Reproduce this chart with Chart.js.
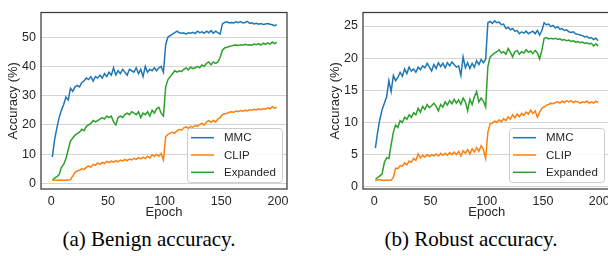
<!DOCTYPE html>
<html>
<head>
<meta charset="utf-8">
<script src="https://cdn.jsdelivr.net/npm/chart.js@4.4.1/dist/chart.umd.min.js"></script>
<style>
  html, body { margin: 0; padding: 0; background: #fff; width: 608px; height: 256px; overflow: hidden; position: relative; }
  .box { position: absolute; top: 0; width: 300px; height: 222px; }
  #boxA { left: 0; }
  #boxB { left: 322px; }
  .cap { position: absolute; top: 229px; line-height: 21px; font-family: "Liberation Serif", "Times New Roman", serif; font-size: 21px; color: #000; white-space: nowrap; transform: translateX(-50%); }
</style>
</head>
<body>
<div class="box" id="boxA"><canvas id="chartA" width="300" height="222"></canvas></div>
<div class="box" id="boxB"><canvas id="chartB" width="300" height="222"></canvas></div>
<div class="cap" style="left:149px">(a) Benign accuracy.</div>
<div class="cap" style="left:471px">(b) Robust accuracy.</div>
<script>
// epochs sampled every 2 (1, 3, ..., 199)
const epochs = Array.from({length: 100}, (_, i) => 1 + 2 * i);
const seriesNames = ['MMC', 'CLIP', 'Expanded'];
const seriesColors = ['#1f77b4', '#ff7f0e', '#2ca02c'];

const xTicks = [0, 50, 100, 150, 200];
const benignTicks = [0, 10, 20, 30, 40, 50];
const robustTicks = [0, 5, 10, 15, 20, 25];

// (a) benign accuracy
const benignMMC = [
  9, 15, 19, 22.5, 25, 27, 29.5, 28.5, 32.5, 31.5,
  33, 33.5, 33, 34.5, 35, 36, 35.5, 36.5, 35, 36.5,
  36, 37, 36, 37.5, 36.5, 38, 37, 39.5, 37, 38.5,
  37.5, 39, 38, 37, 39, 38.5, 38, 39.5, 37.5, 39,
  36.5, 40, 38, 39, 38.5, 39.5, 38.5, 39.5, 40, 38,
  47.5, 50, 50.5, 51, 51.5, 52, 51.5, 51.3, 51.5, 51,
  51.5, 51.3, 51.6, 51.2, 52, 51.5, 51.8, 51.3, 52, 51.5,
  52.2, 51.3, 52, 51.5, 51, 54.5, 55, 55.2, 54.8, 55,
  54.8, 55.2, 54.9, 55.3, 54.8, 55, 55.4, 54.7, 54.9, 54.5,
  54.7, 54.4, 54.6, 54.3, 54.5, 54.6, 54.4, 54.2, 53.9, 54.2
];
const benignCLIP = [
  1.2, 1.1, 1.1, 1.1, 1.1, 1.1, 1.1, 1.2, 1.3, 2.5,
  3.8, 4.3, 4.5, 5, 4.8, 5.5, 6, 5.5, 6.5, 6.2,
  7, 6.5, 7.2, 6.8, 7.5, 7.2, 7.6, 7.3, 7.8, 7.4,
  8, 7.6, 8.2, 7.8, 8.3, 8, 8.6, 8.2, 8.8, 8.4,
  9, 8.5, 9.3, 8.7, 9.8, 9.2, 10, 9.3, 10.2, 8,
  16, 16.8, 17.2, 17.5, 17.2, 18, 18.5, 18.2, 19, 19.3,
  18.8, 19.5, 19.2, 19.8, 19.5, 20.2, 20.5, 20, 21, 21.5,
  20.8, 21.5, 21, 22, 22.5, 23.5, 23.8, 24, 24.3, 24.5,
  24.3, 24.7, 24.5, 24.9, 24.7, 25, 24.8, 25.2, 25, 25.3,
  25.1, 25.5, 25.2, 25.6, 25.4, 25.8, 25.5, 26.2, 25.7, 26
];
const benignExpanded = [
  1.2, 1.8, 2.3, 3, 5.5, 6.5, 8.5, 11.5, 14.5, 15.5,
  16.5, 17, 17.5, 18.5, 18, 19.5, 20, 20.5, 21.5, 21,
  21.5, 22, 22.5, 22, 23, 22.5, 23, 21, 20, 22.5,
  23, 22.5, 23.5, 24, 23.5, 24.5, 24, 23.5, 24.5, 22.5,
  24, 23.5, 24.5, 23, 25, 24, 25.5, 26, 24, 23,
  33, 35.5, 36.5, 37.5, 38.5, 38, 38.5, 38.2, 39, 39.5,
  38.8, 39.8, 39.2, 39.5, 40, 39.5, 40.5, 40, 41, 41.5,
  40.5, 41.5, 41, 41.5, 43, 45.5, 46.3, 46.5, 46.8, 47,
  47.2, 47.3, 47.1, 47.4, 47.2, 47.5, 47.3, 47.4, 47.2, 47.6,
  47.4, 47.8, 47.3, 47.9, 47.5, 48, 47.6, 48.3, 47.8, 48.2
];

// (b) robust accuracy
const robustMMC = [
  6, 8.5, 10.5, 12, 13, 14, 16.5, 14.8, 17.3, 16.5,
  17, 17.8, 17.2, 18.3, 17.6, 18.6, 18, 18.3, 17.8, 18.6,
  18.2, 18.8, 18.5, 19.2, 18.6, 18, 19, 18.4, 19.3, 18.7,
  19.2, 18.5, 19.3, 18.8, 19.4, 19, 18.6, 18.8, 17.3, 20.2,
  18.5, 19.3, 18.4, 19.2, 18.6, 19.6, 19, 19.8, 19.3, 19.8,
  25.5, 25.7, 25.4, 25.8, 25.5, 25.6, 25.2, 25.3, 24.6, 24.8,
  24.4, 24.6, 24.2, 24.3, 23.8, 24.1, 23.9, 24.2, 23.8, 24,
  24.2, 23.8, 24.3, 23.6, 24.3, 25.5, 25.2, 25.3, 24.9, 25.1,
  24.7, 24.9, 24.5, 24.6, 24.3, 24.4, 24.1, 24, 24.1, 23.8,
  23.7, 23.6, 23.5, 23.3, 23.4, 23.1, 23.2, 22.9, 23.1, 22.7
];
const robustCLIP = [
  0.9, 1.1, 1.1, 1, 1, 1, 1, 1, 1.5, 2.9,
  2.8, 3.3, 3.2, 3.7, 3.4, 4, 3.8, 4.4, 4.1, 5.1,
  4.5, 4.9, 4.6, 5, 4.7, 5, 4.8, 5.1, 4.8, 5.2,
  4.9, 5.2, 4.9, 5.3, 5, 5.4, 5, 5.5, 4.8, 5.6,
  5.2, 5.8, 5.1, 5.9, 5.4, 6.1, 5.5, 6.4, 5.8, 4.4,
  8.5, 9.8, 9.9, 10.2, 10, 10.4, 10.1, 10.6, 10.3, 10.9,
  10.5, 11.2, 10.7, 11.3, 10.9, 11.4, 11.1, 11.6, 11.3, 11.9,
  11.4, 11.8, 10.8, 11.6, 12.2, 12.4, 12.7, 12.8, 13, 12.9,
  13.1, 13.2, 13, 13.3, 13.1, 13.4, 13.2, 13.4, 13.1, 13.3,
  13.2, 13, 13.2, 13.1, 13.3, 13, 13.2, 13, 13.3, 13.1
];
const robustExpanded = [
  1.2, 1.4, 1.7, 2, 3.8, 4.5, 4.4, 6.5, 8.5, 9.6,
  9.2, 10.3, 10, 10.8, 10.5, 11.2, 10.8, 11.5, 11.2, 12.2,
  11.6, 12.5, 12, 12.8, 12.3, 12.6, 13, 12.5, 11.8, 12.8,
  12.4, 13.2, 12.7, 13.4, 12.9, 13.6, 13, 13.5, 12.8, 13.8,
  13.2, 11.8, 13.6, 12.8, 14, 14.8, 13.2, 13.8, 13.3, 12.4,
  18.7, 20.2, 20.5, 20.8, 21, 21.3, 20.8, 21, 20.6, 21.5,
  20.9, 20.2, 21, 21.2, 20.6, 21, 20.8, 21.3, 20.9, 21.1,
  20.7, 21.2, 20.8, 19.9, 21.2, 23.1, 23.2, 23, 23.1, 23,
  23.1, 22.9, 23, 22.8, 22.9, 22.7, 22.8, 22.6, 22.7, 22.5,
  22.6, 22.4, 22.5, 22.3, 22.4, 22.2, 22.3, 21.9, 22.2, 21.9
];

Chart.defaults.font.family = '"Liberation Sans", Arial, sans-serif';
Chart.defaults.color = '#262626';

const textColor = '#262626';

// frame (all four spines) + matplotlib-like legend box in lower right
const framePlugin = {
  id: 'frameLegend',
  afterDraw: (chart, args, opts) => {
    const {ctx, chartArea: a} = chart;
    ctx.save();
    ctx.strokeStyle = '#3a3a3a';
    ctx.lineWidth = 1.25;
    ctx.strokeRect(a.left, a.top, a.right - a.left, a.bottom - a.top);

    // legend
    const b = opts.box;
    ctx.fillStyle = 'rgba(255,255,255,0.85)';
    ctx.strokeStyle = '#cccccc';
    ctx.lineWidth = 1;
    ctx.beginPath();
    ctx.roundRect(b.x + 0.5, b.y + 0.5, b.w, b.h, 3);
    ctx.fill();
    ctx.stroke();
    ctx.font = '11.5px "Liberation Sans", Arial, sans-serif';
    ctx.textBaseline = 'middle';
    ctx.textAlign = 'left';
    seriesNames.forEach((name, i) => {
      const y = b.y + 9.7 + i * 17.3;
      ctx.strokeStyle = seriesColors[i];
      ctx.lineWidth = 1.5;
      ctx.beginPath();
      ctx.moveTo(b.x + 4, y);
      ctx.lineTo(b.x + 27, y);
      ctx.stroke();
      ctx.fillStyle = textColor;
      ctx.fillText(name, b.x + 37, y + 0.5);
    });
    ctx.restore();
  }
};

function makeChart(canvasId, series, yTicks, yMin, yMax, xMin, xMax, padRight) {
  const datasets = series.map((vals, i) => ({
    label: seriesNames[i],
    data: epochs.map((e, j) => ({x: e, y: vals[j]})),
    borderColor: seriesColors[i],
    backgroundColor: seriesColors[i],
    borderWidth: 1.5,
    pointRadius: 0,
    tension: 0,
    fill: false
  }));

  return new Chart(document.getElementById(canvasId), {
    type: 'line',
    data: {datasets: datasets},
    options: {
      responsive: false,
      animation: false,
      layout: {padding: {left: 0, right: padRight, top: 3, bottom: 0}},
      plugins: {
        legend: {display: false},
        tooltip: {enabled: false},
        frameLegend: {box: {x: 187, y: 128, w: 95, h: 54}}
      },
      scales: {
        x: {
          type: 'linear',
          min: xMin,
          max: xMax,
          afterBuildTicks: s => { s.ticks = xTicks.map(v => ({value: v})); },
          afterFit: s => { s.height = 33; },
          grid: {display: false, drawTicks: false},
          border: {display: false},
          ticks: {padding: 5, font: {size: 12.5}, color: textColor, maxRotation: 0},
          title: {display: true, text: 'Epoch', font: {size: 13}, color: textColor, padding: {top: 0, bottom: 1.5}}
        },
        y: {
          min: yMin,
          max: yMax,
          afterBuildTicks: s => { s.ticks = yTicks.map(v => ({value: v})); },
          afterFit: s => { s.width = 41; },
          grid: {color: '#d4d4d4', lineWidth: 1, drawTicks: false},
          border: {display: false},
          ticks: {padding: 5, font: {size: 12.5}, color: textColor},
          title: {display: true, text: 'Accuracy (%)', font: {size: 13}, color: textColor, padding: {top: 5.5, bottom: 0}}
        }
      }
    },
    plugins: [framePlugin]
  });
}

makeChart('chartA', [benignMMC, benignCLIP, benignExpanded], benignTicks, -1.9, 58.4, -9, 208, 13);
makeChart('chartB', [robustMMC, robustCLIP, robustExpanded], robustTicks, -0.35, 27.1, -10, 210, 11.5);
</script>
</body>
</html>
